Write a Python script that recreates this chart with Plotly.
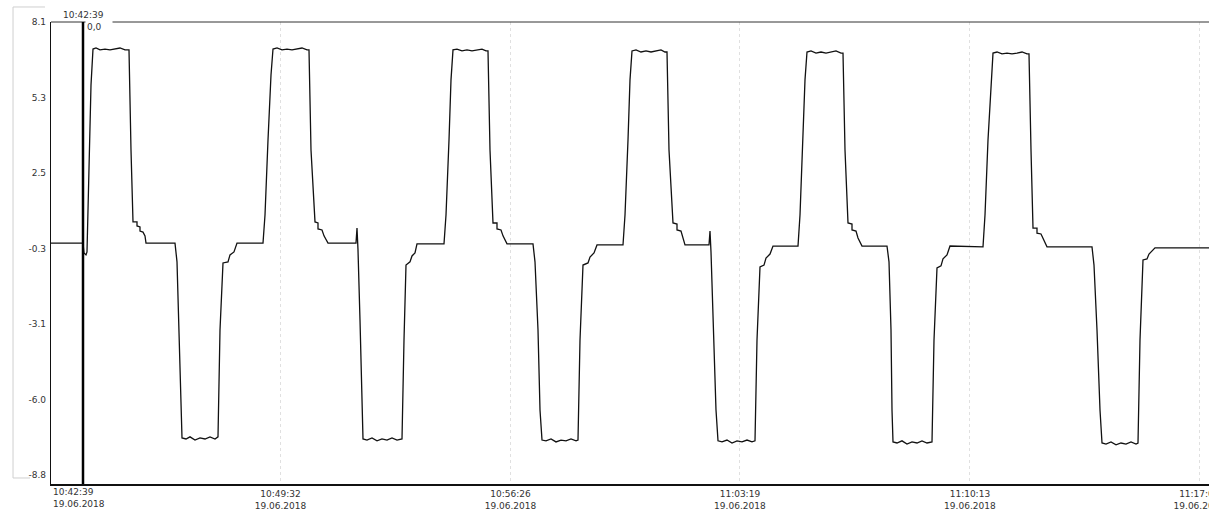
import pandas as pd
import plotly.graph_objects as go

# ---------------- data ----------------
start_time = "2018-06-19 10:42:39"

# elapsed seconds since start_time
t_sec = [
    0, 57.6, 59.4, 63.0, 64.8, 68.4, 72.0, 75.6, 81.0, 88.2, 97.2, 106.2, 115.2, 124.2, 133.2, 140.4,
    144.0, 147.6, 154.8, 154.8, 160.2, 160.2, 165.6, 169.2, 171.0, 223.2, 226.8, 230.4, 234.0, 235.8,
    243.0, 250.2, 259.2, 268.2, 277.2, 286.2, 295.2, 300.6, 304.2, 309.6, 318.6, 322.2, 329.4, 334.8,
    381.6, 385.2, 390.6, 396.0, 399.6, 406.8, 415.8, 424.8, 433.8, 442.8, 451.8, 460.8, 464.4,
    468.0, 475.2, 480.6, 480.6, 487.8, 491.4, 498.6, 549.0, 550.8, 552.6, 556.2, 559.8, 561.6,
    568.8, 577.8, 586.8, 595.8, 604.8, 613.8, 622.8, 631.8, 635.4, 639.0, 646.2, 649.8, 655.2, 658.8,
    707.4, 711.0, 716.4, 720.0, 723.6, 730.8, 739.8, 748.8, 757.8, 766.8, 775.8, 783.0, 786.6,
    790.2, 795.6, 802.8, 802.8, 810.0, 813.6, 820.8, 867.6, 871.2, 876.6, 880.2, 883.8,
    891.0, 900.0, 909.0, 918.0, 927.0, 936.0, 945.0, 948.6, 952.2, 957.6, 966.6, 970.2, 977.4, 982.8,
    1029.6, 1033.2, 1038.6, 1042.2, 1045.8, 1053.0, 1062.0, 1071.0, 1080.0, 1089.0, 1098.0, 1105.2, 1108.8,
    1112.4, 1119.6, 1126.8, 1126.8, 1134.0, 1137.6, 1141.2, 1184.4, 1186.2, 1188.0, 1191.6, 1197.0, 1200.6,
    1207.8, 1216.8, 1225.8, 1234.8, 1243.8, 1252.8, 1261.8, 1267.2, 1270.8, 1276.2, 1283.4, 1287.0, 1294.2, 1299.6,
    1344.6, 1348.2, 1353.6, 1357.2, 1360.8, 1368.0, 1377.0, 1386.0, 1395.0, 1404.0, 1413.0, 1422.0, 1425.6,
    1429.2, 1434.6, 1441.8, 1441.8, 1449.0, 1452.6, 1459.8, 1504.8, 1508.4, 1512.0, 1513.8, 1515.6,
    1522.8, 1531.8, 1540.8, 1549.8, 1558.8, 1567.8, 1576.8, 1585.8, 1589.4, 1594.8, 1602.0, 1605.6, 1612.8, 1618.2,
    1677.6, 1681.2, 1686.6, 1692.0, 1695.6, 1702.8, 1711.8, 1720.8, 1729.8, 1738.8, 1747.8, 1756.8, 1760.4,
    1764.0, 1767.6, 1774.8, 1774.8, 1782.0, 1787.4, 1792.8, 1873.8, 1877.4, 1882.8, 1888.2, 1891.8,
    1899.0, 1908.0, 1917.0, 1926.0, 1935.0, 1944.0, 1953.0, 1956.6, 1960.2, 1965.6, 1972.8, 1976.4, 1981.8, 1987.2,
    2084.4,
]

value = [
    -0.15, -0.15, -0.52, -0.59, -0.48, 3.32, 5.75, 7.09, 7.13, 7.06, 7.09, 7.06, 7.09, 7.13, 7.06, 7.06,
    3.32, 0.64, 0.64, 0.49, 0.45, 0.30, 0.26, 0.12, -0.15, -0.15, -0.85, -3.39, -6.38, -7.42,
    -7.46, -7.38, -7.50, -7.42, -7.46, -7.38, -7.46, -7.38, -3.39, -0.89, -0.85, -0.59, -0.48, -0.15,
    -0.15, 0.90, 3.70, 6.12, 7.09, 7.13, 7.06, 7.09, 7.06, 7.09, 7.13, 7.06, 7.06,
    3.32, 0.64, 0.60, 0.38, 0.34, 0.12, -0.15, -0.15, 0.41, -0.41, -3.02, -6.38, -7.46,
    -7.50, -7.42, -7.53, -7.46, -7.50, -7.42, -7.50, -7.46, -3.77, -0.97, -0.85, -0.63, -0.52, -0.18,
    -0.18, 0.90, 3.70, 5.94, 7.06, 7.09, 7.02, 7.06, 7.02, 7.06, 7.09, 7.02, 7.02,
    3.32, 0.60, 0.60, 0.38, 0.34, 0.12, -0.18, -0.18, -0.85, -3.39, -6.38, -7.50,
    -7.53, -7.46, -7.57, -7.50, -7.53, -7.46, -7.53, -7.50, -3.77, -0.97, -0.89, -0.67, -0.52, -0.22,
    -0.22, 0.90, 3.70, 5.94, 7.02, 7.06, 6.98, 7.02, 6.98, 7.02, 7.06, 6.98, 6.98,
    3.32, 0.60, 0.56, 0.34, 0.30, 0.04, -0.22, -0.22, 0.30, -0.48, -3.02, -6.38, -7.53,
    -7.57, -7.50, -7.61, -7.53, -7.57, -7.50, -7.57, -7.53, -3.77, -1.04, -0.97, -0.71, -0.56, -0.26,
    -0.26, 0.90, 3.70, 5.94, 6.98, 7.02, 6.94, 6.98, 6.94, 6.98, 7.02, 6.94, 6.94,
    3.32, 0.60, 0.56, 0.34, 0.30, 0.04, -0.26, -0.26, -0.85, -3.39, -6.38, -7.57,
    -7.61, -7.53, -7.65, -7.57, -7.61, -7.53, -7.61, -7.57, -3.77, -1.08, -1.00, -0.74, -0.59, -0.26,
    -0.29, 0.90, 3.70, 5.94, 6.94, 6.98, 6.91, 6.94, 6.91, 6.94, 6.98, 6.91, 6.91,
    3.32, 0.41, 0.41, 0.22, 0.19, -0.03, -0.29, -0.29, -0.97, -3.39, -6.38, -7.61,
    -7.65, -7.57, -7.68, -7.61, -7.65, -7.57, -7.65, -7.61, -3.77, -0.78, -0.74, -0.56, -0.44, -0.33,
    -0.33,
]

cursor_sec = 57.6
cursor_time_label = "10:42:39"
cursor_value_label = "0,0"

x_tick_times = [
    "2018-06-19 10:42:39", "2018-06-19 10:49:32", "2018-06-19 10:56:26",
    "2018-06-19 11:03:19", "2018-06-19 11:10:13", "2018-06-19 11:17:06",
]
x_tick_labels = [
    "10:42:39<br>19.06.2018", "10:49:32<br>19.06.2018", "10:56:26<br>19.06.2018",
    "11:03:19<br>19.06.2018", "11:10:13<br>19.06.2018", "11:17:06<br>19.06.2018",
]
y_tick_vals = [8.1, 5.283, 2.467, -0.35, -3.167, -5.983, -8.8]
y_tick_labels = ["8.1", "5.3", "2.5", "-0.3", "-3.1", "-6.0", "-8.8"]

x_range_sec = [0, 2084.4]
y_range = [-9.14, 8.1]

# ---------------- figure ----------------
t0 = pd.Timestamp(start_time)
times = t0 + pd.to_timedelta(t_sec, unit="s")
cursor_time = t0 + pd.to_timedelta(cursor_sec, unit="s")
fmt = "%Y-%m-%d %H:%M:%S.%f"
x_range = [(t0 + pd.to_timedelta(s, unit="s")).strftime(fmt) for s in x_range_sec]

font_y = dict(family="DejaVu Sans, Arial, sans-serif", size=9, color="#333333")
font_x = dict(family="DejaVu Sans, Arial, sans-serif", size=9, color="#333333")

fig = go.Figure()
fig.add_trace(go.Scatter(
    x=times, y=value, mode="lines",
    line=dict(color="#111111", width=1.3),
    hoverinfo="skip", showlegend=False,
))

fig.update_layout(
    template="none",
    width=1209, height=511,
    margin=dict(l=51, r=0, t=22, b=27, pad=0, autoexpand=False),
    paper_bgcolor="white", plot_bgcolor="white",
    font=font_y,
    showlegend=False,
    xaxis=dict(
        type="date", range=x_range, automargin=False,
        tickmode="array", tickvals=x_tick_times[1:], ticktext=x_tick_labels[1:],
        tickfont=font_x, ticks="", ticklabeloverflow="allow", ticklabelstandoff=0,
        showline=True, linecolor="#111111", linewidth=2,
        showgrid=True, gridcolor="#e0e0e0", gridwidth=1, griddash="dot",
        zeroline=False, fixedrange=True,
    ),
    yaxis=dict(
        range=y_range, automargin=False,
        tickmode="array", tickvals=y_tick_vals, ticktext=y_tick_labels,
        tickfont=font_y, ticks="", ticklabelstandoff=2,
        showline=True, linecolor="#111111", linewidth=1.3,
        showgrid=False, zeroline=False, fixedrange=True,
    ),
)

# frame top line
fig.add_shape(type="line", xref="paper", yref="paper", x0=0, x1=1, y0=1, y1=1,
              line=dict(color="#333333", width=1))
# cursor line
fig.add_shape(type="line", xref="x", yref="paper", x0=cursor_time, x1=cursor_time, y0=0, y1=1,
              line=dict(color="#000000", width=2.5))
# faint side panel outline
fig.add_shape(type="path", xref="paper", yref="paper",
              path="M -0.0052,1.0325 L -0.0328,1.0325 L -0.0328,0.013 L -0.0181,0.013",
              line=dict(color="#cfcfcf", width=1))

# start label (left aligned at the axis start)
fig.add_annotation(x=times[0], xref="x", y=0, yref="paper", xanchor="left", yanchor="top",
                   yshift=-1, text=x_tick_labels[0], showarrow=False, align="left", font=font_x)
# cursor time label
fig.add_annotation(x=cursor_time, xref="x", y=1, yref="paper", xanchor="center", yanchor="bottom",
                   text=cursor_time_label, showarrow=False, font=font_y)
# cursor value label (covers part of the top line)
fig.add_annotation(x=cursor_time, xref="x", y=1, yref="paper", xanchor="left", yanchor="top",
                   xshift=2, yshift=2, width=24, align="left", bgcolor="white",
                   text=cursor_value_label, showarrow=False, font=font_y)

fig.write_html("out.html")
